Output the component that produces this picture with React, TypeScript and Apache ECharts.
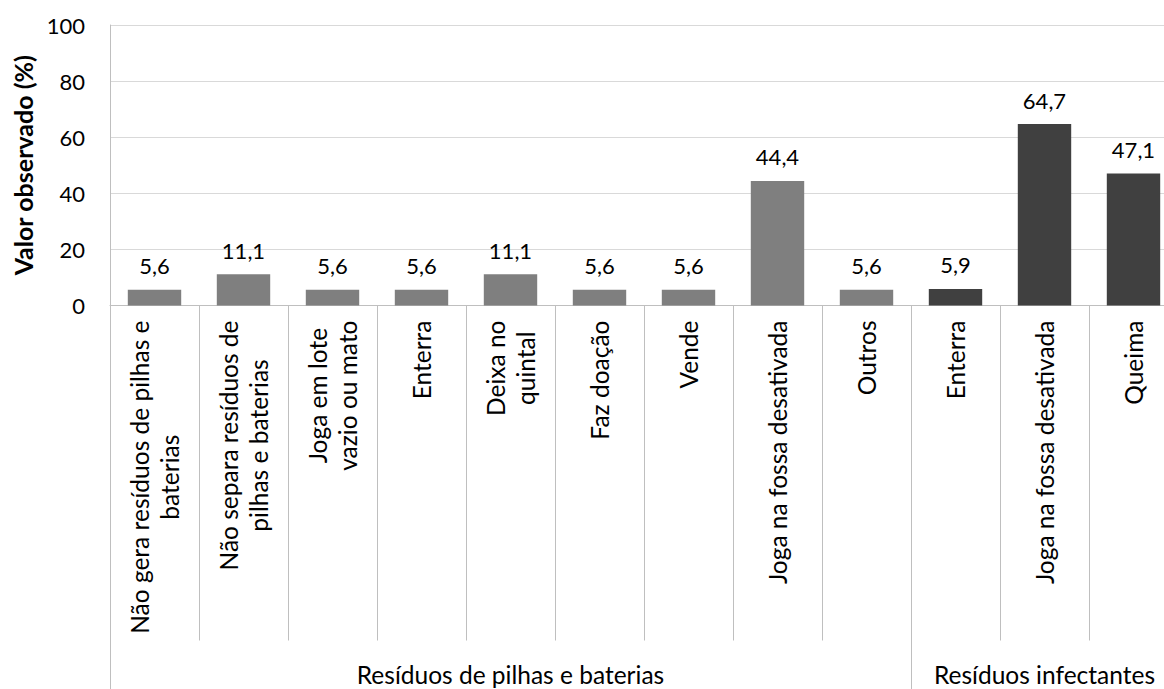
import React, { useEffect, useRef } from "react";
import * as echarts from "echarts";

const categories = [
  "Não gera resíduos de pilhas e\nbaterias",
  "Não separa resíduos de\npilhas e baterias",
  "Joga em lote\nvazio ou mato",
  "Enterra",
  "Deixa no\nquintal",
  "Faz doação",
  "Vende",
  "Joga na fossa desativada",
  "Outros",
  "Enterra",
  "Joga na fossa desativada",
  "Queima",
];
const values = [5.6, 11.1, 5.6, 5.6, 11.1, 5.6, 5.6, 44.4, 5.6, 5.9, 64.7, 47.1];
const groupNames = ["Resíduos de pilhas e baterias", "Resíduos infectantes"];
const groupSizes = [9, 3];
const groupColors = ["#7f7f7f", "#404040"];
const yTicks = [0, 20, 40, 60, 80, 100];

const FONT = "Lato";
const FS = 24.5;
const NFS = 22;

export default function App() {
  const ref = useRef<HTMLDivElement>(null);
  useEffect(() => {
    if (!ref.current) return;
    const chart = echarts.init(ref.current, null, { renderer: "svg" });
    const groupOf = (i: number) => (i < groupSizes[0] ? 0 : 1);
    const boundaries = [0, groupSizes[0], groupSizes[0] + groupSizes[1]];
    const centers = [groupSizes[0] / 2, groupSizes[0] + groupSizes[1] / 2];
    chart.setOption({
      animation: false,
      textStyle: { fontFamily: FONT },
      grid: { left: 110, right: 0, top: 25, bottom: 383.5, containLabel: false },
      xAxis: [
        {
          type: "category",
          data: categories,
          axisLine: { show: true, lineStyle: { color: "#bfbfbf", width: 1 } },
          axisTick: { show: true, interval: 0, length: 335, lineStyle: { color: "#bfbfbf", width: 1 } },
          axisLabel: {
            interval: 0,
            rotate: 90,
            margin: 15,
            formatter: (v: string) =>
              v
                .split("\n")
                .map((l) => "{c|" + l + "}")
                .join("\n"),
            rich: {
              c: { align: "center", fontFamily: FONT, fontSize: FS, color: "#000", lineHeight: 30 },
            },
          },
          splitLine: { show: false },
        },
        {
          type: "value",
          position: "bottom",
          min: 0,
          max: boundaries[2],
          axisLine: { show: false },
          splitLine: { show: false },
          axisTick: {
            show: true,
            customValues: boundaries,
            length: 383.5,
            lineStyle: { color: "#bfbfbf", width: 1 },
          },
          axisLabel: {
            show: true,
            customValues: centers,
            margin: 356,
            fontFamily: FONT,
            fontSize: FS,
            color: "#000",
            formatter: (v: number) => (v < groupSizes[0] ? groupNames[0] : groupNames[1]),
          },
        },
      ],
      yAxis: {
        type: "value",
        min: yTicks[0],
        max: yTicks[yTicks.length - 1],
        interval: 20,
        name: "Valor observado (%)",
        nameLocation: "middle",
        nameGap: 71,
        nameTextStyle: { fontFamily: FONT, fontSize: 25, fontWeight: "bold", color: "#000" },
        axisLine: { show: true, lineStyle: { color: "#bfbfbf", width: 1 } },
        axisTick: { show: false },
        axisLabel: { margin: 25, fontFamily: FONT, fontSize: NFS, color: "#000" },
        splitLine: { show: true, lineStyle: { color: "#d9d9d9", width: 1 } },
      },
      series: [
        {
          type: "bar",
          xAxisIndex: 0,
          barWidth: "60%",
          data: values.map((v, i) => ({ value: v, itemStyle: { color: groupColors[groupOf(i)] } })),
          label: {
            show: true,
            position: "top",
            distance: 13,
            fontFamily: FONT,
            fontSize: NFS,
            color: "#000",
            formatter: (p: any) => String(p.value).replace(".", ","),
          },
        },
      ],
    });
    return () => chart.dispose();
  }, []);
  return (
    <div style={{ position: "fixed", left: 0, top: 0, width: 1164, height: 689, overflow: "hidden", background: "#fff" }}>
      <div ref={ref} style={{ position: "absolute", left: 0, top: 0, width: 1178, height: 689 }} />
    </div>
  );
}
